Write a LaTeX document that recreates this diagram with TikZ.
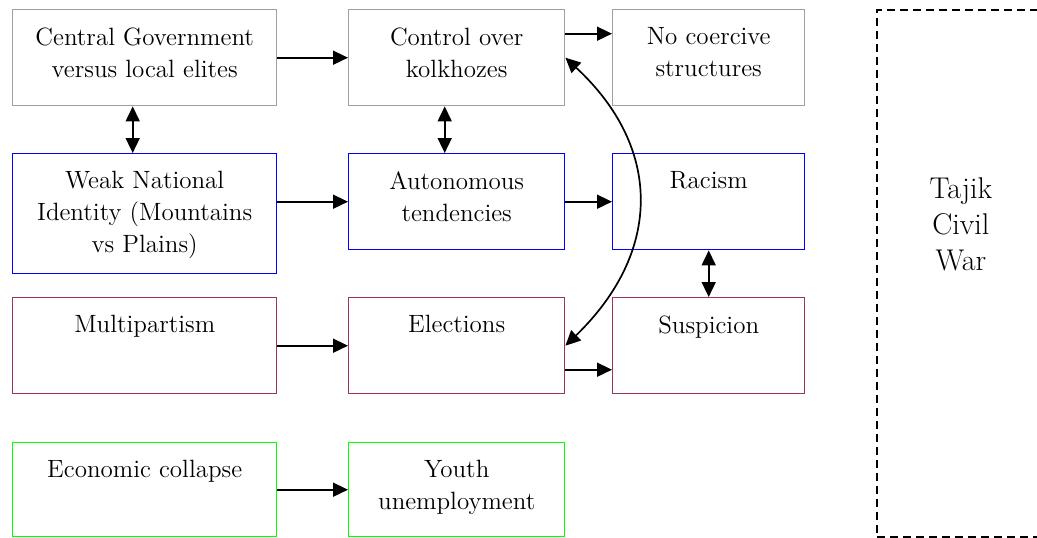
\documentclass[tikz,border=0pt]{standalone}
\usetikzlibrary{arrows.meta}
\definecolor{boxgray}{RGB}{160,160,160}
\definecolor{boxblue}{RGB}{0,0,255}
\definecolor{boxplum}{RGB}{153,51,102}
\definecolor{boxgreen}{RGB}{0,255,0}
\tikzset{
  cause/.style={draw, line width=0.7pt, rectangle, inner sep=0pt},
  lbl/.style={anchor=north, inner sep=0pt, align=center, font=\fontsize{12.5}{16}\selectfont},
  arr/.style={-{Triangle[length=7.5pt,width=7pt]}, line width=0.85pt},
  biarr/.style={{Triangle[length=7.5pt,width=7pt]}-{Triangle[length=7.5pt,width=7pt]}, line width=0.85pt}
}
% style, name, top left corner, width, height, text
\def\causebox[#1](#2)(#3,#4)#5#6#7{%
  \node[cause, #1, anchor=north west, minimum width=#5*0.5pt, minimum height=#6*0.5pt] (#2) at (#3,#4) {};
  \node[lbl] (#2-txt) at ([yshift=-9pt]#2.north) {#7};}

\begin{document}
\begin{tikzpicture}[x=0.5pt, y=-0.5pt]
			\useasboundingbox (0,0) rectangle (1037,537);
			
			%%%%% BOXES %%%%%
			\causebox[boxgray](cg)(12,9){264}{96}{Central Government\\versus local elites}
			\causebox[boxgray](ctrl)(348,9){216}{96}{Control over\\kolkhozes}
			\causebox[boxgray](nocoerc)(612,9){192}{96}{No coercive\\structures}
			
			\causebox[boxblue](wni)(12,153){264}{120}{Weak National\\Identity (Mountains\\vs Plains)}
			\causebox[boxblue](auto)(348,153){216}{96}{Autonomous\\tendencies}
			\causebox[boxblue](racism)(612,153){192}{96}{Racism}
			
			\causebox[boxplum](multi)(12,297){264}{96}{Multipartism}
			\causebox[boxplum](elect)(348,297){216}{96}{Elections}
			\causebox[boxplum](susp)(612,297){192}{96}{Suspicion}
			
			\causebox[boxgreen](econ)(12,442){264}{94}{Economic collapse}
			\causebox[boxgreen](youth)(348,442){216}{94}{Youth\\unemployment}
			
			\node[draw, line width=0.9pt, dash pattern=on 4pt off 2.5pt, anchor=north west, minimum width=84pt, minimum height=263.5pt] (war) at (876,9) {};
			\node[lbl, font=\fontsize{15}{18}\selectfont] (war-txt) at ([yshift=-84pt]war.north) {Tajik\\Civil\\War};
			
			%%%%% ARROWS %%%%%
			\draw[arr] (cg) -- (ctrl);
			\draw[arr] ([yshift=12pt]ctrl.east) -- ([yshift=12pt]nocoerc.west);
			\draw[biarr] ([xshift=-6pt]cg.south) -- ([xshift=-6pt]wni.north);
			\draw[biarr] ([xshift=-6pt]ctrl.south) -- ([xshift=-6pt]auto.north);
			\draw[arr] (wni.east |- auto.west) -- (auto.west);
			\draw[arr] (auto) -- (racism);
			\draw[biarr] (racism.south) -- (susp.north);
			\draw[arr] (multi) -- (elect);
			\draw[arr] ([yshift=-12pt]elect.east) -- ([yshift=-12pt]susp.west);
			\draw[arr] (econ) -- (youth);
			\draw[biarr] (elect.east) .. controls +(97,-94) and +(97,90) .. (ctrl.east);
			
\end{tikzpicture}
\end{document}
